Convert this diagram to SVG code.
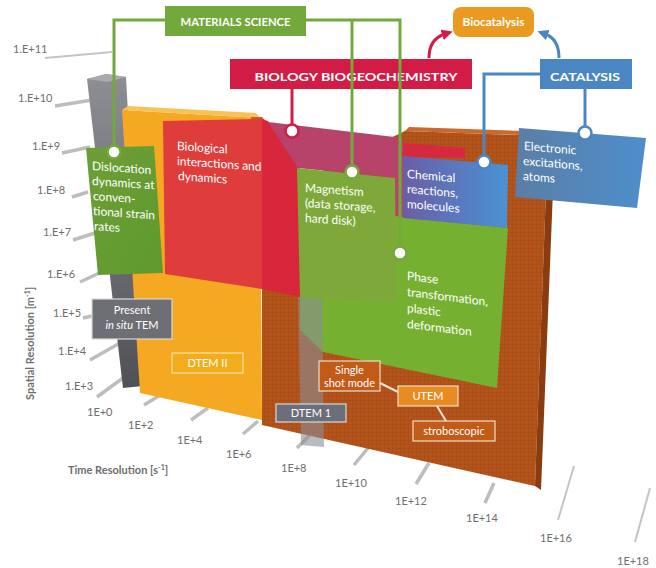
<svg xmlns="http://www.w3.org/2000/svg" width="656" height="568" viewBox="0 0 656 568">
<style>
.t{font-family:Lato,"Open Sans","Liberation Sans",sans-serif;fill:#fff;font-size:11px}
.p{font-size:12px}
.h{font-weight:bold}
.ax{font-family:Lato,"Open Sans","Liberation Sans",sans-serif;fill:#6e6e6e;font-size:11px}
.tk{stroke:#bdbdbd;stroke-width:3.5;fill:none}
.tkt{stroke:#c4c4c4;stroke-width:2;fill:none}
.g{stroke:#72a83c;stroke-width:3;fill:none}
.r{stroke:#d21c46;stroke-width:3;fill:none}
.b{stroke:#4a87c2;stroke-width:3;fill:none}
.dot{fill:#fff;stroke-width:2.5}
.bx{stroke:#f1ddc6;stroke-width:1.2}
</style>
<defs>
<linearGradient id="gc" x1="0" y1="0" x2="0" y2="1"><stop offset="0" stop-color="#8e8f94"/><stop offset="1" stop-color="#505156"/></linearGradient>
<linearGradient id="ch" x1="0" y1="0" x2="1" y2="0"><stop offset="0" stop-color="#6a5ea6"/><stop offset="1" stop-color="#4a92d4"/></linearGradient>
<linearGradient id="el" x1="0" y1="0" x2="1" y2="0"><stop offset="0" stop-color="#5a7ea6"/><stop offset="1" stop-color="#4e8ecb"/></linearGradient>
<linearGradient id="gr" x1="0" y1="0" x2="1" y2="1"><stop offset="0" stop-color="#6e9e36"/><stop offset="1" stop-color="#5e9a2e"/></linearGradient>
<pattern id="grid" width="4" height="4" patternUnits="userSpaceOnUse"><path d="M4 0H0V4" fill="none" stroke="#6e2a06" stroke-width="0.5" opacity="0.45"/></pattern>
<marker id="ar" markerWidth="11" markerHeight="11" refX="3" refY="5.5" orient="auto" markerUnits="userSpaceOnUse"><path d="M0,0 L11,5.5 L0,11 z" fill="#d21c46"/></marker>
<marker id="ab" markerWidth="11" markerHeight="11" refX="3" refY="5.5" orient="auto" markerUnits="userSpaceOnUse"><path d="M0,0 L11,5.5 L0,11 z" fill="#4a87c2"/></marker>
</defs>
<rect width="656" height="568" fill="#fff"/>

<g id="axes">
<path class="tkt" d="M45,58 L112,52"/>
<path class="tk" d="M55,106 L92,100 M62,153 L90,147 M72,197 L88,192 M73,240 L95,233 M80,282 L110,268 M83,318 L92,316 M90,360 L120,343 M97,397 L123,378"/>
<path class="tk" d="M144,405 L162,394 M191,420 L208,408 M243,434 L258,421 M297,448 L310,435 M354,465 L368,448 M416,484 L429,463 M485,503 L494,483"/>
<path class="tkt" d="M558,520 L574,466 M635,542 L650,488"/>
<text class="ax" x="13" y="53">1.E+11</text>
<text class="ax" x="18" y="102">1.E+10</text>
<text class="ax" x="32" y="150">1.E+9</text>
<text class="ax" x="37" y="194">1.E+8</text>
<text class="ax" x="43" y="236">1.E+7</text>
<text class="ax" x="47" y="278">1.E+6</text>
<text class="ax" x="53" y="317">1.E+5</text>
<text class="ax" x="58" y="355">1.E+4</text>
<text class="ax" x="65" y="390">1.E+3</text>
<text class="ax" x="87" y="416">1E+0</text>
<text class="ax" x="128" y="429">1E+2</text>
<text class="ax" x="177" y="444">1E+4</text>
<text class="ax" x="226" y="458">1E+6</text>
<text class="ax" x="281" y="472">1E+8</text>
<text class="ax" x="335" y="487">1E+10</text>
<text class="ax" x="395" y="505">1E+12</text>
<text class="ax" x="466" y="522">1E+14</text>
<text class="ax" x="540" y="542">1E+16</text>
<text class="ax" x="617" y="565">1E+18</text>
<text class="ax" x="68" y="474" font-weight="bold" font-size="10.5">Time Resolution [s<tspan baseline-shift="super" font-size="7">-1</tspan>]</text>
<text class="ax" transform="translate(34,400) rotate(-90)" font-weight="bold" font-size="10.5">Spatial Resolution [m<tspan baseline-shift="super" font-size="7">-1</tspan>]</text>
</g>

<g id="present-column">
<polygon points="87,79 106,74 126,77 143,386 123,388" fill="url(#gc)"/>
<polygon points="87,79 106,74 126,77 108,82" fill="#a9aaae"/>
</g>

<g id="utem-slab">
<polygon points="262,200 405,131 548,136 535,486 262,425" fill="#b3541b"/>
<polygon points="262,200 405,131 548,136 535,486 262,425" fill="url(#grid)"/>
<polygon points="405,131 409,127 552,132 548,136" fill="#c96a2c"/>
<polygon points="548,136 555,140 541,490 535,486" fill="#8a3c10"/>
</g>

<g id="dtem2-slab">
<polygon points="122,110 260,118 262,420 140,393" fill="#f5a821"/>
<polygon points="122,110 128,106 256,113 260,118" fill="#f8c257"/>
<polygon points="250,117 262,117 272,128 260,128" fill="#d0592a"/>
</g>

<g id="dislocation">
<polygon points="86,148 154,146 163,273 98,275" fill="url(#gr)"/>
<g transform="translate(92,170) skewY(4) translate(-92,-170)">
<text class="t p" x="92" y="170">Dislocation</text>
<text class="t p" x="92" y="185">dynamics at</text>
<text class="t p" x="93" y="200">conven-</text>
<text class="t p" x="93" y="215">tional strain</text>
<text class="t p" x="94" y="230">rates</text>
</g>
</g>

<g id="biological">
<polygon points="163,121 262,119 262,289 165,274" fill="#df3d3c"/>
<polygon points="258,118 268,121 300,168 305,298 262,289 262,119" fill="#d8263b"/>
<polygon points="268,122 403,138 403,216 395,216 395,178 298,168" fill="#b8436a"/>
<polygon points="403,143 465,148 465,158 403,157" fill="#d6283e"/>
<g transform="translate(177,150) skewY(4) translate(-177,-150)">
<text class="t p" x="177" y="150">Biological</text>
<text class="t p" x="177" y="165">interactions and</text>
<text class="t p" x="178" y="180">dynamics</text>
</g>
</g>

<g id="phase">
<polygon points="300,206 508,228 497,388 323,352 300,330" fill="#76b030"/>
<g transform="translate(407,280) skewY(7) translate(-407,-280)">
<text class="t p" x="407" y="280">Phase</text>
<text class="t p" x="407" y="296">transformation,</text>
<text class="t p" x="407" y="312">plastic</text>
<text class="t p" x="407" y="328">deformation</text>
</g>
</g>

<g id="magnetism">
<polygon points="297,168 395,178 396,302 300,297" fill="#7ea93a"/>
<g transform="translate(305,192) skewY(4) translate(-305,-192)">
<text class="t p" x="305" y="192">Magnetism</text>
<text class="t p" x="305" y="207">(data storage,</text>
<text class="t p" x="305" y="222">hard disk)</text>
</g>
</g>

<g id="chemical">
<polygon points="403,156 508,165 507,228 403,218" fill="url(#ch)"/>
<g transform="translate(407,178) skewY(5) translate(-407,-178)">
<text class="t p" x="407" y="178">Chemical</text>
<text class="t p" x="407" y="193">reactions,</text>
<text class="t p" x="407" y="208">molecules</text>
</g>
</g>

<g id="dtem1-column">
<polygon points="298,297 322,299 324,447 301,445" fill="#8c8c94" opacity="0.6"/>
</g>

<g id="electronic">
<polygon points="519,128 646,138 637,208 515,197" fill="url(#el)"/>
<g transform="translate(524,150) skewY(5) translate(-524,-150)">
<text class="t p" x="524" y="150">Electronic</text>
<text class="t p" x="523" y="165">excitations,</text>
<text class="t p" x="523" y="180">atoms</text>
</g>
</g>

<g id="present-tem">
<rect x="92" y="299" width="80" height="40" fill="#6e6f75" stroke="#d8d8d8" stroke-width="1.2"/>
<text class="t" x="132" y="314" text-anchor="middle">Present</text>
<text class="t" x="132" y="329" text-anchor="middle"><tspan font-style="italic">in situ</tspan> TEM</text>
</g>
<g id="dtem2">
<rect x="172" y="353" width="71" height="20" fill="#f3ad1c" stroke="#fbe3a8" stroke-width="1.2"/>
<text class="t" x="207.500" y="367" text-anchor="middle">DTEM II</text>
</g>
<g id="dtem1">
<rect x="276" y="404" width="70" height="18" fill="#6c6f7a" stroke="#d8d8d8" stroke-width="1.2"/>
<text class="t" x="311" y="417" text-anchor="middle">DTEM 1</text>
</g>
<g id="single-shot">
<rect x="319" y="361" width="61" height="30" fill="#c25a18" class="bx"/>
<text class="t" x="349.500" y="374" text-anchor="middle">Single</text>
<text class="t" x="349.500" y="387" text-anchor="middle">shot mode</text>
</g>
<g id="utem">
<rect x="398" y="386" width="60" height="20" fill="#e88c22" class="bx"/>
<text class="t" x="428" y="400" text-anchor="middle">UTEM</text>
</g>
<g id="stroboscopic">
<rect x="413" y="421" width="82" height="20" fill="#c25a18" class="bx"/>
<text class="t" x="454" y="435" text-anchor="middle">stroboscopic</text>
</g>

<g id="materials-science">
<rect x="165" y="6" width="141" height="30" fill="#72a83c"/>
<text class="t h" x="235.500" y="25.500" text-anchor="middle" font-size="13" textLength="110" lengthAdjust="spacingAndGlyphs">MATERIALS SCIENCE</text>
</g>
<g id="biology">
<rect x="230" y="59" width="242" height="30" fill="#d21c46"/>
<text class="t h" x="356" y="80.500" text-anchor="middle" font-size="18" textLength="203" lengthAdjust="spacingAndGlyphs">BIOLOGY BIOGEOCHEMISTRY</text>
</g>
<g id="catalysis">
<rect x="540" y="59" width="92" height="30" fill="#4a87c2"/>
<text class="t h" x="585" y="80.500" text-anchor="middle" font-size="17.500" textLength="70" lengthAdjust="spacingAndGlyphs">CATALYSIS</text>
</g>
<g id="biocatalysis">
<rect x="453" y="7" width="81" height="30" rx="8" fill="#eb9a21"/>
<text class="t h" x="493.500" y="26" text-anchor="middle" textLength="62" lengthAdjust="spacingAndGlyphs">Biocatalysis</text>
</g>

<g id="connectors">
<path class="g" d="M165,20 H114 V146"/>
<path class="g" d="M306,20 H400 V247"/>
<path class="g" d="M352,20 V166"/>
<path class="r" d="M292,89 V125"/>
<path class="b" d="M540,74 H484 V156"/>
<path class="b" d="M585,89 V127"/>
<path class="r" d="M429,58 Q429,39 445,34" marker-end="url(#ar)"/>
<path class="b" d="M559,58 Q559,39 545,34" marker-end="url(#ab)"/>
<path d="M380,383 L398,392 M437,406 L446,421" stroke="#f3e6d6" stroke-width="2" fill="none"/>
<circle class="dot" cx="114" cy="152" r="6.500" stroke="#72a83c"/>
<circle class="dot" cx="352" cy="172" r="6.500" stroke="#72a83c"/>
<circle class="dot" cx="400" cy="253" r="6.500" stroke="#72a83c"/>
<circle class="dot" cx="292" cy="131" r="6.500" stroke="#d21c46"/>
<circle class="dot" cx="484" cy="162" r="6.500" stroke="#4a87c2"/>
<circle class="dot" cx="585" cy="133" r="6.500" stroke="#4a87c2"/>
</g>
</svg>
